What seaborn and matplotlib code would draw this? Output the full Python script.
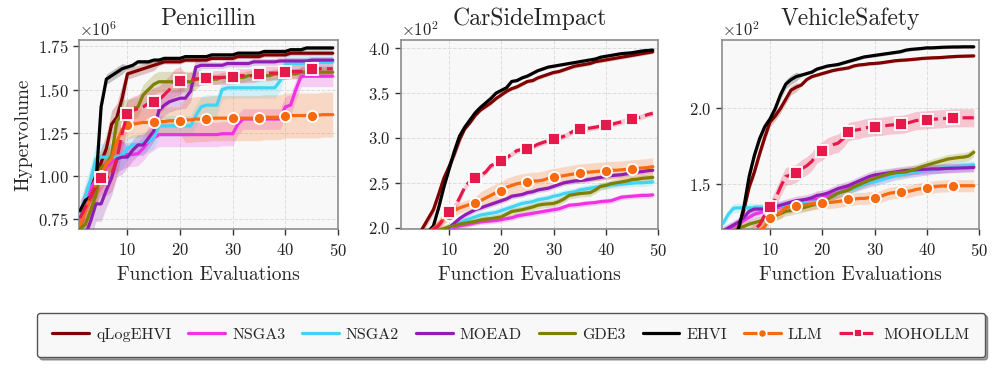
import numpy as np
import pandas as pd
import matplotlib
matplotlib.use("Agg")
import matplotlib.pyplot as plt
import seaborn as sns
from matplotlib.ticker import ScalarFormatter, MultipleLocator

# ---------------- data ----------------
evals = list(range(1, 50))
methods = ["qLogEHVI", "NSGA3", "NSGA2", "MOEAD", "GDE3", "EHVI", "LLM", "MOHOLLM"]
titles = ["Penicillin", "CarSideImpact", "VehicleSafety"]
scales = [1e6, 1e2, 1e2]

# Penicillin (x 1e6)
pen_qlogehvi = [0.74,0.86,0.93,1.00,1.08,1.16,1.30,1.34,1.45,1.59, 1.60,1.61,1.62,1.63,1.64,1.65,1.66,1.66,1.66,1.66,
                1.67,1.67,1.67,1.67,1.67,1.68,1.68,1.68,1.68,1.68, 1.69,1.69,1.69,1.69,1.69,1.70,1.70,1.70,1.70,1.70,
                1.71,1.71,1.71,1.71,1.71,1.71,1.71,1.71,1.71]
pen_nsga3 = [0.74,0.85,0.93,0.98,1.00,1.05,1.08,1.10,1.12,1.125, 1.125,1.13,1.16,1.20,1.22,1.24,1.24,1.24,1.24,1.24,
             1.24,1.24,1.24,1.24,1.24,1.24,1.24,1.245,1.245,1.245, 1.30,1.33,1.33,1.33,1.33,1.33,1.33,1.33,1.33,1.40,
             1.41,1.50,1.577,1.577,1.577,1.577,1.577,1.577,1.577]
pen_nsga2 = [0.78,0.88,0.98,1.10,1.11,1.11,1.11,1.11,1.12,1.16, 1.18,1.18,1.19,1.20,1.22,1.29,1.29,1.29,1.29,1.29,
             1.29,1.29,1.35,1.40,1.41,1.41,1.41,1.50,1.51,1.51, 1.51,1.51,1.51,1.51,1.51,1.51,1.51,1.51,1.55,1.645,
             1.65,1.65,1.65,1.65,1.66,1.66,1.66,1.66,1.66]
pen_moead = [0.65,0.66,0.74,0.84,0.84,0.92,0.99,1.10,1.11,1.11, 1.15,1.18,1.18,1.22,1.26,1.38,1.41,1.43,1.44,1.45,
             1.45,1.49,1.63,1.64,1.64,1.64,1.64,1.64,1.65,1.65, 1.65,1.65,1.65,1.66,1.66,1.66,1.66,1.66,1.665,1.665,
             1.665,1.665,1.665,1.665,1.67,1.67,1.67,1.67,1.67]
pen_gde3 = [0.70,0.72,0.80,0.89,1.05,1.07,1.12,1.32,1.36,1.385, 1.39,1.40,1.47,1.50,1.53,1.545,1.545,1.545,1.545,1.545,
            1.545,1.545,1.56,1.56,1.56,1.56,1.56,1.57,1.57,1.57, 1.57,1.57,1.58,1.58,1.58,1.58,1.58,1.59,1.59,1.59,
            1.59,1.59,1.60,1.60,1.60,1.60,1.60,1.60,1.60]
pen_ehvi = [0.80,0.86,0.88,0.95,1.40,1.56,1.58,1.60,1.62,1.63, 1.64,1.66,1.66,1.66,1.67,1.67,1.68,1.68,1.68,1.68,
            1.69,1.69,1.69,1.69,1.69,1.70,1.70,1.70,1.70,1.70, 1.71,1.71,1.71,1.71,1.71,1.72,1.72,1.72,1.72,1.72,
            1.73,1.73,1.73,1.74,1.74,1.74,1.74,1.74,1.74]
pen_llm = [0.72,0.80,0.88,0.95,1.00,1.07,1.10,1.20,1.27,1.294, 1.30,1.305,1.31,1.31,1.31,1.315,1.315,1.32,1.32,1.32,
           1.325,1.325,1.33,1.33,1.33,1.335,1.335,1.335,1.335,1.335, 1.335,1.335,1.335,1.335,1.335,1.34,1.34,1.34,1.34,1.35,
           1.35,1.35,1.35,1.35,1.35,1.35,1.355,1.355,1.355]
pen_moholl = [0.76,0.82,0.88,0.94,0.99,0.99,1.01,1.10,1.25,1.36, 1.38,1.39,1.40,1.42,1.43,1.44,1.47,1.50,1.54,1.55,
              1.555,1.56,1.56,1.565,1.567,1.57,1.57,1.57,1.57,1.573, 1.58,1.58,1.58,1.58,1.59,1.595,1.595,1.595,1.595,1.60,
              1.605,1.605,1.605,1.615,1.62,1.62,1.62,1.62,1.62]

# CarSideImpact (x 1e2)
car_qlogehvi = [1.60,1.70,1.80,1.90,2.00,2.10,2.20,2.37,2.55,2.68, 2.82,2.98,3.10,3.17,3.25,3.31,3.35,3.39,3.44,3.48,
                3.52,3.55,3.57,3.60,3.63,3.64,3.67,3.69,3.71,3.73, 3.74,3.76,3.78,3.80,3.81,3.82,3.83,3.85,3.86,3.87,
                3.88,3.89,3.90,3.91,3.92,3.93,3.94,3.95,3.96]
car_nsga3 = [1.50,1.55,1.60,1.65,1.70,1.75,1.80,1.85,1.90,1.99, 2.00,2.02,2.03,2.04,2.055,2.065,2.07,2.075,2.08,2.09,
             2.10,2.11,2.13,2.14,2.15,2.16,2.17,2.18,2.19,2.20, 2.21,2.23,2.25,2.255,2.26,2.27,2.275,2.28,2.29,2.295,
             2.30,2.32,2.34,2.345,2.35,2.355,2.36,2.36,2.365]
car_nsga2 = [1.50,1.55,1.60,1.65,1.70,1.75,1.80,1.86,1.93,2.00, 2.02,2.05,2.08,2.10,2.12,2.14,2.15,2.16,2.17,2.19,
             2.21,2.23,2.25,2.27,2.28,2.29,2.31,2.32,2.33,2.35, 2.36,2.38,2.39,2.40,2.42,2.43,2.44,2.45,2.46,2.47,
             2.475,2.48,2.485,2.49,2.495,2.50,2.50,2.505,2.51]
car_moead = [1.50,1.60,1.65,1.70,1.75,1.80,1.85,1.90,1.96,2.00, 2.05,2.10,2.14,2.17,2.20,2.22,2.24,2.26,2.28,2.30,
             2.32,2.35,2.36,2.37,2.39,2.40,2.42,2.43,2.44,2.46, 2.48,2.50,2.51,2.52,2.525,2.53,2.54,2.55,2.56,2.57,
             2.58,2.585,2.59,2.60,2.61,2.62,2.625,2.635,2.64]
car_gde3 = [1.50,1.55,1.60,1.65,1.70,1.75,1.85,1.97,1.99,2.01, 2.02,2.04,2.05,2.06,2.07,2.085,2.095,2.10,2.11,2.12,
            2.15,2.18,2.19,2.20,2.215,2.23,2.25,2.26,2.265,2.27, 2.29,2.32,2.36,2.37,2.38,2.385,2.39,2.42,2.46,2.47,
            2.49,2.50,2.51,2.52,2.535,2.54,2.55,2.555,2.56]
car_ehvi = [1.50,1.60,1.70,1.80,1.88,1.95,2.02,2.22,2.45,2.65, 2.85,3.02,3.12,3.20,3.28,3.34,3.39,3.44,3.50,3.53,
            3.56,3.63,3.64,3.67,3.69,3.72,3.75,3.77,3.79,3.80, 3.81,3.82,3.83,3.84,3.85,3.86,3.87,3.88,3.90,3.91,
            3.92,3.93,3.94,3.945,3.95,3.96,3.97,3.975,3.98]
car_llm = [1.60,1.70,1.75,1.80,1.90,1.95,1.99,2.04,2.10,2.14, 2.19,2.22,2.24,2.26,2.28,2.30,2.33,2.36,2.39,2.41,
           2.45,2.47,2.49,2.50,2.51,2.52,2.52,2.53,2.55,2.56, 2.57,2.58,2.59,2.60,2.61,2.615,2.62,2.625,2.63,2.635,
           2.64,2.64,2.645,2.65,2.655,2.66,2.665,2.67,2.68]
car_moholl = [1.70,1.75,1.80,1.85,1.90,1.95,1.98,2.02,2.10,2.18, 2.22,2.33,2.45,2.52,2.55,2.58,2.62,2.69,2.72,2.74,
              2.78,2.82,2.86,2.87,2.88,2.90,2.93,2.95,2.97,2.99, 3.00,3.02,3.05,3.08,3.10,3.10,3.11,3.12,3.13,3.145,
              3.15,3.165,3.18,3.20,3.21,3.22,3.24,3.26,3.275]

# VehicleSafety (x 1e2)
veh_qlogehvi = [1.10,1.12,1.15,1.21,1.33,1.48,1.58,1.70,1.81,1.91, 1.95,2.00,2.06,2.12,2.14,2.155,2.19,2.21,2.22,2.23,
                2.24,2.25,2.257,2.262,2.268,2.28,2.287,2.29,2.295,2.297, 2.30,2.305,2.31,2.315,2.318,2.32,2.323,2.326,2.33,2.332,
                2.334,2.335,2.337,2.34,2.342,2.344,2.345,2.346,2.347]
veh_nsga3 = [1.18,1.20,1.22,1.24,1.26,1.28,1.30,1.31,1.32,1.33, 1.34,1.35,1.36,1.37,1.375,1.38,1.385,1.39,1.40,1.41,
             1.42,1.43,1.44,1.455,1.47,1.48,1.49,1.50,1.51,1.52, 1.53,1.54,1.55,1.56,1.565,1.57,1.575,1.58,1.585,1.59,
             1.595,1.60,1.602,1.605,1.607,1.61,1.612,1.613,1.615]
veh_nsga2 = [1.24,1.30,1.34,1.343,1.343,1.343,1.343,1.343,1.343,1.343, 1.35,1.355,1.36,1.365,1.37,1.375,1.378,1.38,1.383,1.39,
             1.40,1.42,1.44,1.45,1.46,1.47,1.485,1.50,1.51,1.515, 1.525,1.535,1.545,1.555,1.56,1.57,1.575,1.58,1.585,1.59,
             1.595,1.60,1.605,1.61,1.613,1.617,1.62,1.622,1.625]
veh_moead = [1.19,1.21,1.23,1.25,1.28,1.32,1.335,1.335,1.335,1.335, 1.35,1.36,1.37,1.38,1.39,1.394,1.40,1.41,1.425,1.43,
             1.44,1.455,1.47,1.48,1.49,1.505,1.52,1.535,1.55,1.56, 1.565,1.57,1.575,1.58,1.585,1.59,1.592,1.594,1.596,1.598,
             1.60,1.60,1.602,1.604,1.605,1.606,1.607,1.608,1.61]
veh_gde3 = [1.15,1.17,1.19,1.21,1.22,1.235,1.245,1.255,1.265,1.275, 1.29,1.305,1.32,1.325,1.335,1.34,1.35,1.36,1.37,1.385,
            1.40,1.42,1.44,1.45,1.46,1.48,1.495,1.51,1.525,1.537, 1.55,1.56,1.57,1.575,1.578,1.58,1.59,1.60,1.614,1.625,
            1.635,1.645,1.655,1.665,1.67,1.675,1.678,1.685,1.71]
veh_ehvi = [1.10,1.12,1.15,1.21,1.35,1.55,1.69,1.80,1.88,1.93, 2.00,2.09,2.16,2.19,2.21,2.22,2.23,2.24,2.26,2.27,
            2.28,2.285,2.29,2.30,2.31,2.32,2.33,2.34,2.345,2.35, 2.355,2.36,2.365,2.37,2.375,2.385,2.39,2.393,2.396,2.40,
            2.40,2.402,2.404,2.405,2.406,2.406,2.407,2.407,2.407]
veh_llm = [1.05,1.07,1.09,1.10,1.11,1.15,1.17,1.19,1.22,1.278, 1.30,1.31,1.345,1.35,1.357,1.36,1.365,1.37,1.372,1.374,
           1.378,1.38,1.385,1.39,1.40,1.40,1.405,1.405,1.41,1.41, 1.415,1.43,1.44,1.445,1.449,1.45,1.455,1.465,1.47,1.476,
           1.48,1.485,1.487,1.488,1.489,1.489,1.489,1.489,1.489]
veh_moholl = [1.10,1.11,1.12,1.13,1.14,1.17,1.20,1.23,1.295,1.346, 1.40,1.48,1.55,1.56,1.57,1.60,1.62,1.65,1.70,1.72,
              1.746,1.76,1.77,1.80,1.846,1.855,1.86,1.87,1.875,1.879, 1.88,1.885,1.89,1.892,1.894,1.90,1.91,1.92,1.922,1.925,
              1.928,1.93,1.932,1.935,1.938,1.938,1.938,1.938,1.938]

# half-widths of the shaded bands (same units as the series)
pen_band = {
    "qLogEHVI": [0.08]*9 + [0.03]*6 + [0.012]*34,
    "NSGA3":    [0.08]*9 + [0.07]*21 + [0.06]*19,
    "NSGA2":    [0.08]*9 + [0.06]*40,
    "MOEAD":    [0.10]*9 + [0.06]*14 + [0.02]*26,
    "GDE3":     [0.08]*9 + [0.06]*14 + [0.03]*26,
    "EHVI":     [0.03]*9 + [0.012]*40,
    "LLM":      [0.08]*9 + [0.08]*11 + [0.13]*29,
    "MOHOLLM":  [0.10]*9 + [0.08]*11 + [0.04]*29,
}
car_band = {
    "qLogEHVI": [0.05]*12 + [0.02]*37,
    "NSGA3":    [0.03]*49,
    "NSGA2":    [0.04]*49,
    "MOEAD":    [0.03]*49,
    "GDE3":     [0.04]*49,
    "EHVI":     [0.03]*12 + [0.015]*37,
    "LLM":      [0.06]*15 + [0.10]*34,
    "MOHOLLM":  [0.05]*12 + [0.03]*37,
}
veh_band = {
    "qLogEHVI": [0.03]*15 + [0.01]*34,
    "NSGA3":    [0.03]*49,
    "NSGA2":    [0.03]*49,
    "MOEAD":    [0.03]*49,
    "GDE3":     [0.03]*49,
    "EHVI":     [0.03]*15 + [0.01]*34,
    "LLM":      [0.04]*49,
    "MOHOLLM":  [0.04]*10 + [0.06]*39,
}

panel_data = [
    dict(zip(methods, [pen_qlogehvi, pen_nsga3, pen_nsga2, pen_moead, pen_gde3, pen_ehvi, pen_llm, pen_moholl])),
    dict(zip(methods, [car_qlogehvi, car_nsga3, car_nsga2, car_moead, car_gde3, car_ehvi, car_llm, car_moholl])),
    dict(zip(methods, [veh_qlogehvi, veh_nsga3, veh_nsga2, veh_moead, veh_gde3, veh_ehvi, veh_llm, veh_moholl])),
]
panel_bands = [pen_band, car_band, veh_band]

# ---------------- style ----------------
colors = {
    "qLogEHVI": "#800000", "NSGA3": "#f032e6", "NSGA2": "#42d4f4", "MOEAD": "#911eb4",
    "GDE3": "#808000", "EHVI": "#000000", "LLM": "#f86a0f", "MOHOLLM": "#e6194b",
}
ylims = [(0.695e6, 1.786e6), (198.5, 409.2), (120.3, 245.2)]
ymajor = [0.25e6, 50, 50]

sns.set_theme(style="whitegrid")
plt.rcParams.update({
    "font.family": ["cmr10"],
    "mathtext.fontset": "cm",
    "axes.formatter.use_mathtext": True,
    "axes.unicode_minus": False,
    "axes.facecolor": "#f8f8f8",
    "axes.edgecolor": "#8c8c8c",
    "axes.linewidth": 1.2,
    "grid.color": "#dddddd",
    "grid.linestyle": "--",
    "grid.linewidth": 0.7,
})

fig = plt.figure(figsize=(9.97, 3.68), dpi=100)
W, H = 997, 368
ax_px = [(79, 338), (401, 658), (722, 979)]
top_px, bot_px = 40, 229
axes = [fig.add_axes([l / W, 1 - bot_px / H, (r - l) / W, (bot_px - top_px) / H]) for l, r in ax_px]

for i, ax in enumerate(axes):
    data = panel_data[i]
    bands = panel_bands[i]
    sc = scales[i]
    for m in methods:
        y = np.array(data[m]) * sc
        b = np.array(bands[m]) * sc
        ax.fill_between(evals, y - b, y + b, color=colors[m], alpha=0.22, lw=0, zorder=1)
    for m in methods:
        df = pd.DataFrame({"x": evals, "y": np.array(data[m]) * sc})
        kw = dict(color=colors[m], lw=2.3, label=m, zorder=3, ax=ax)
        if m == "LLM":
            kw.update(marker="o", markersize=8, markevery=(4, 5), markeredgecolor="white",
                      markeredgewidth=1.3)
        elif m == "MOHOLLM":
            kw.update(marker="s", markersize=8, markevery=(4, 5), markeredgecolor="white",
                      markeredgewidth=1.3, dashes=(4.5, 1.6), zorder=4)
        sns.lineplot(data=df, x="x", y="y", **kw)
    ax.set_xlim(0.8, 50)
    ax.set_ylim(*ylims[i])
    ax.xaxis.set_major_locator(MultipleLocator(10))
    ax.yaxis.set_major_locator(MultipleLocator(ymajor[i]))
    fmt = ScalarFormatter(useMathText=True)
    fmt.set_powerlimits((0, 0))
    ax.yaxis.set_major_formatter(fmt)
    ax.yaxis.get_offset_text().set_fontsize(12)
    ax.tick_params(axis="both", labelsize=12, length=4, width=1, colors="#333333",
                   labelcolor="#222222", direction="out", bottom=True, left=True)
    ax.tick_params(axis="x", pad=5.5)
    ax.set_title(titles[i], fontsize=17, pad=11)
    ax.set_xlabel("Function Evaluations", fontsize=14, labelpad=5)
    ax.set_ylabel("Hypervolume" if i == 0 else "", fontsize=14)
    ax.grid(True, which="major")
    if ax.get_legend() is not None:
        ax.get_legend().remove()

handles, labels = axes[0].get_legend_handles_labels()
leg = fig.legend(handles, labels, loc="center", bbox_to_anchor=(0.5125, 0.09), ncol=8,
                 frameon=True, fancybox=True, shadow=True, fontsize=11.5,
                 handlelength=2.3, columnspacing=1.05, borderpad=0.95, handletextpad=0.45,
                 borderaxespad=0.0)
leg.get_frame().set_edgecolor("#555555")
leg.get_frame().set_linewidth(1.0)
for h in leg.legend_handles:
    try:
        h.set_markersize(6)
    except Exception:
        pass

fig.savefig("out.png", dpi=100)
